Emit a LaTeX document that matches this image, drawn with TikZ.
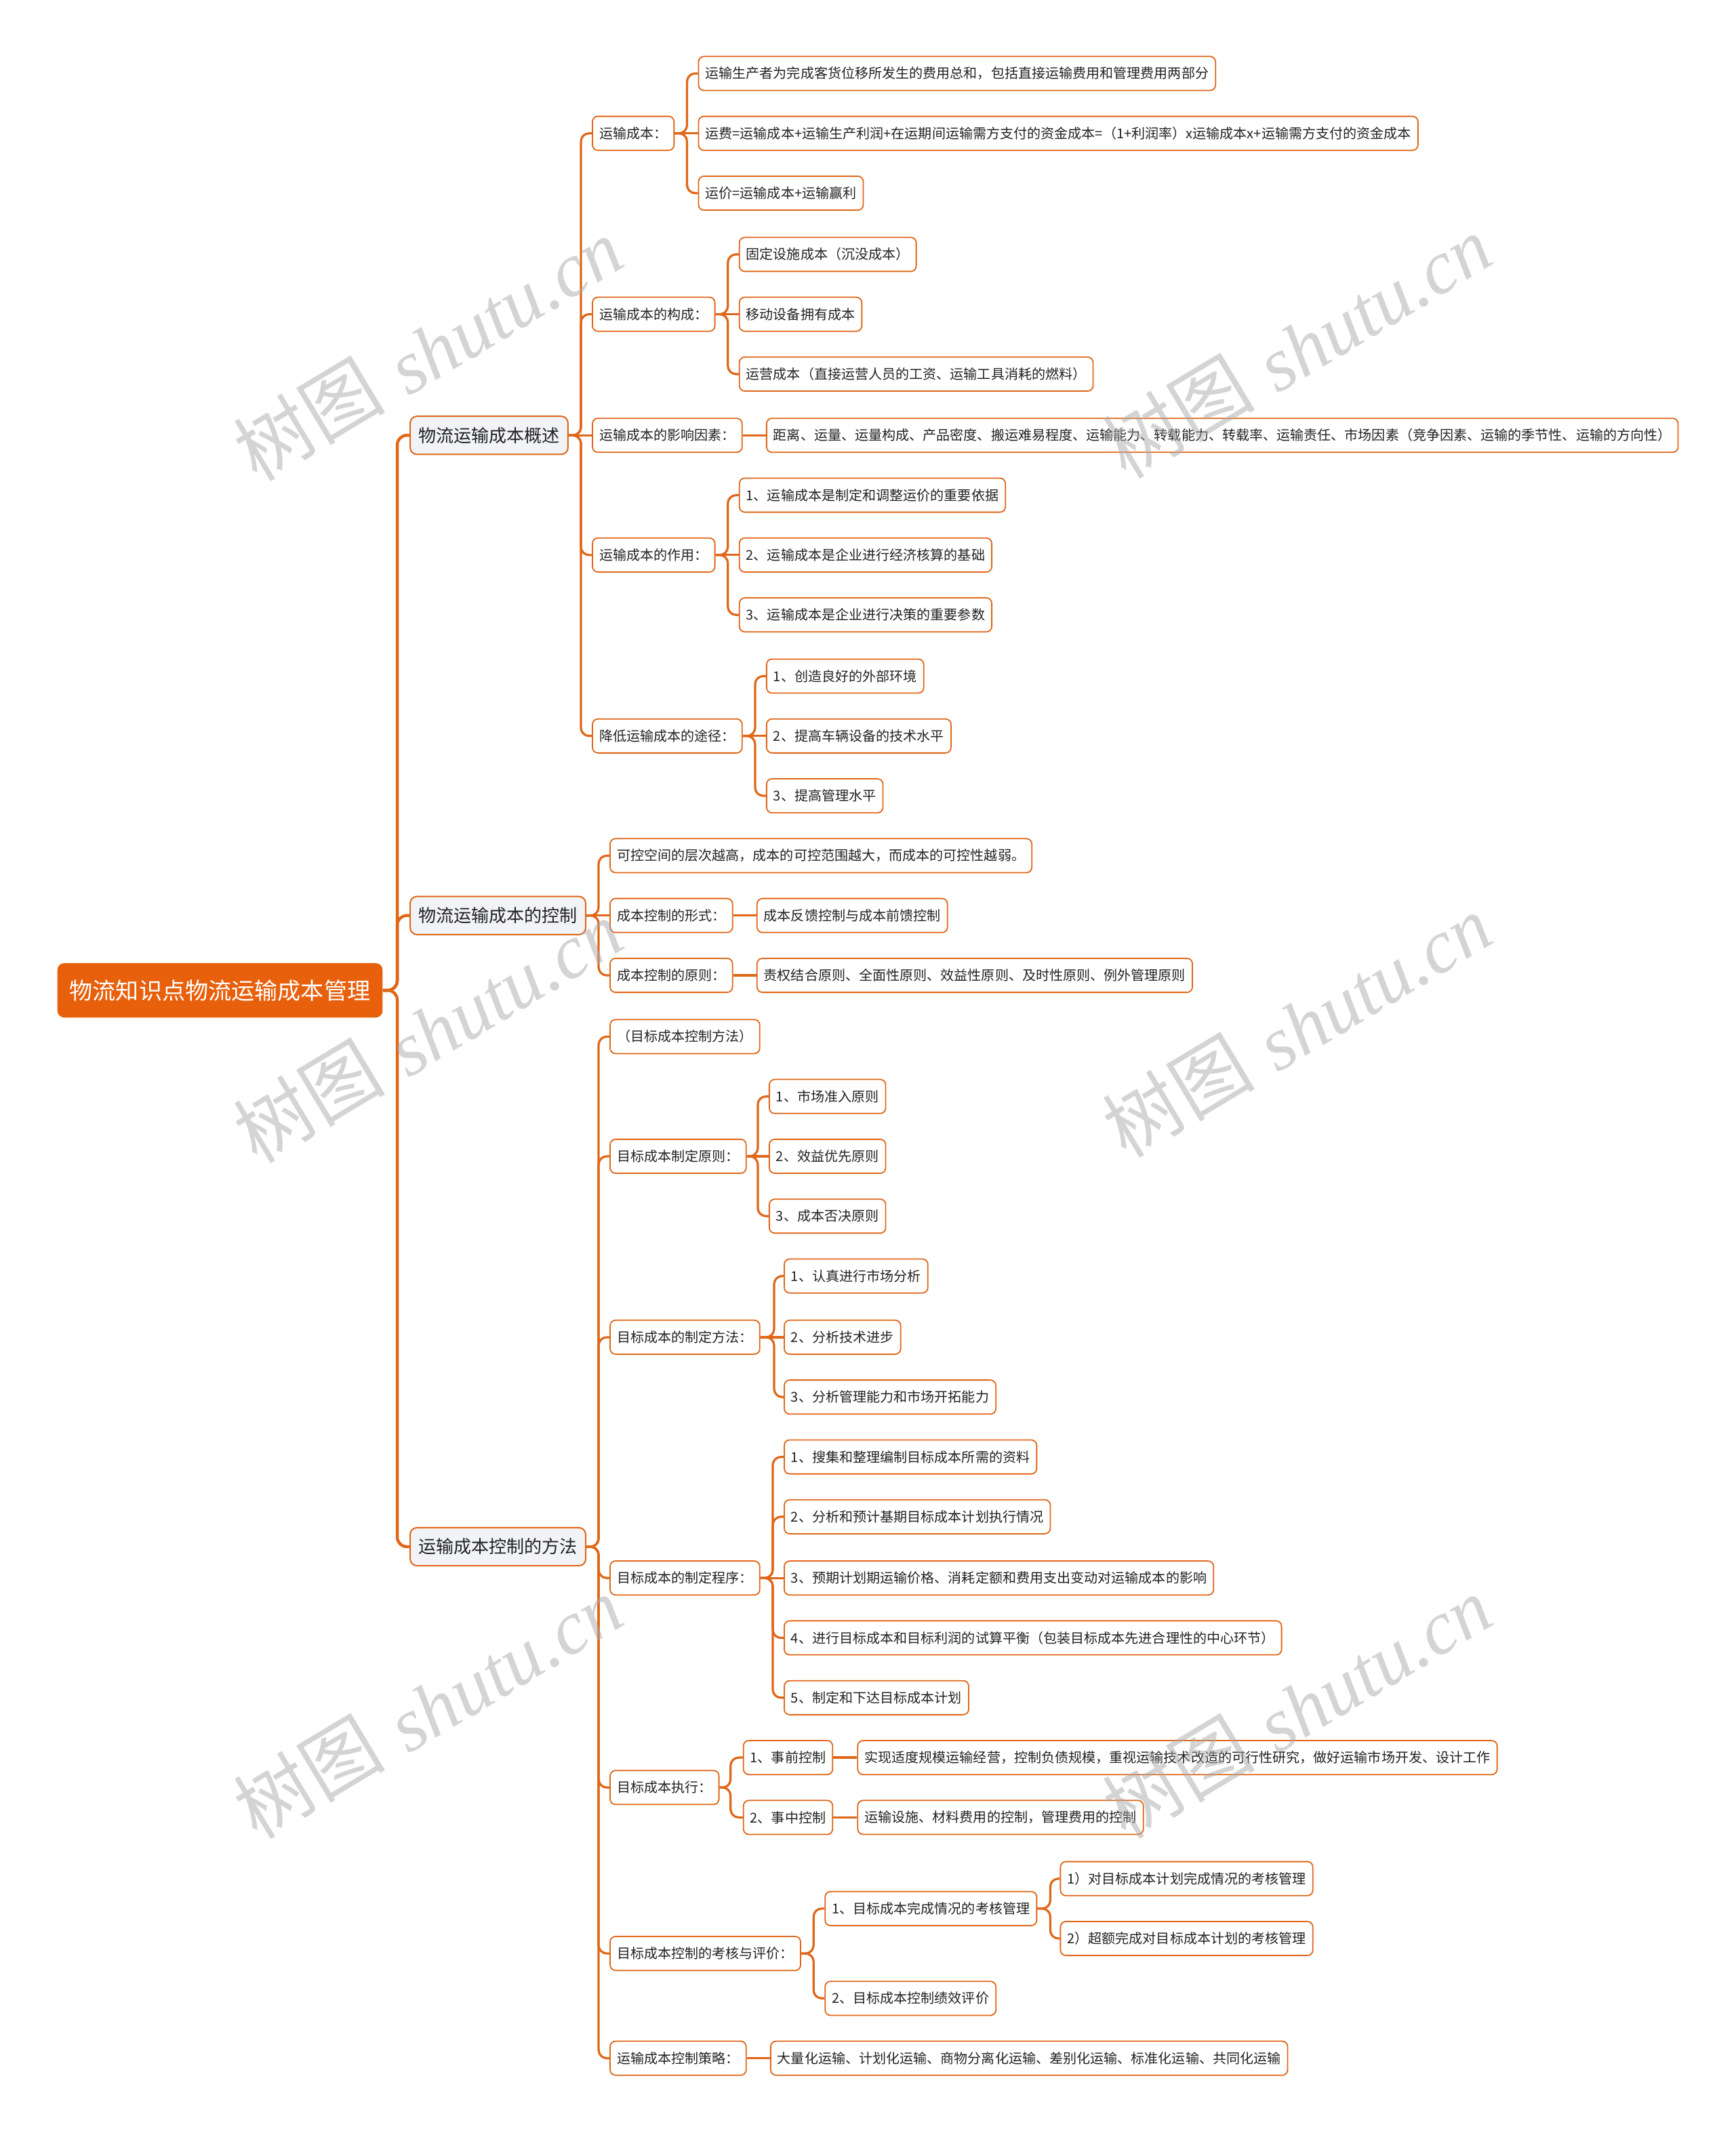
\documentclass[tikz,border=0pt]{standalone}
\usepackage{fontspec}
\setmainfont{Noto Sans CJK SC}
\newfontfamily\wmlat{Liberation Serif}
\definecolor{lineor}{RGB}{224,102,24}
\definecolor{rootor}{RGB}{232,96,12}
\definecolor{lonefill}{RGB}{242,243,247}
\definecolor{txt}{RGB}{34,34,34}
\definecolor{wmgray}{RGB}{170,170,170}
\newcommand\elb[3]{\draw[conn] (#1.east) -- (#1.east -| #2) |- (#3.west);}
\newcommand\strt[2]{\draw[conn] (#1.east) -- (#2.west);}
\begin{document}
\begin{tikzpicture}[x=1pt,y=-1pt,
  rootn/.style={fill=rootor, text=white, rounded corners=5pt, anchor=west,
    font=\fontsize{17pt}{20pt}\selectfont, minimum height=40pt, inner xsep=9pt},
  lone/.style={draw=lineor, fill=lonefill, line width=1pt, rounded corners=5pt, anchor=west,
    text=txt, font=\fontsize{13pt}{15pt}\selectfont, minimum height=28pt, inner xsep=6pt},
  ltwo/.style={draw=lineor, fill=white, line width=0.9pt, rounded corners=4pt, anchor=west,
    text=txt, font=\fontsize{10pt}{12pt}\selectfont, minimum height=25pt, inner xsep=5pt},
  conn/.style={draw=lineor, line width=1.6pt, rounded corners=6pt},
  connm/.style={draw=lineor, line width=2.2pt, rounded corners=7pt},
  wmark/.style={text=wmgray, opacity=0.5, rotate=31, inner sep=0pt,
    font=\fontsize{56pt}{60pt}\selectfont}
]
\useasboundingbox (0,0) rectangle (1275.6,1568);

% trunk coordinates
\coordinate (t0) at (292,0);
\coordinate (tA) at (427,0);
\coordinate (tA1) at (505,0);
\coordinate (tA2) at (535,0);
\coordinate (tA4) at (535,0);
\coordinate (tA5) at (555,0);
\coordinate (tB) at (440,0);
\coordinate (tC) at (440,0);
\coordinate (tC2) at (557,0);
\coordinate (tC3) at (569,0);
\coordinate (tC4) at (568,0);
\coordinate (tC5) at (537,0);
\coordinate (tC6) at (598,0);
\coordinate (tC6a) at (772,0);

% root and level 1
\node[rootn] (R) at (42,728) {物流知识点物流运输成本管理};
\node[lone] (A) at (301,320) {物流运输成本概述};
\node[lone] (B) at (301,673) {物流运输成本的控制};
\node[lone] (C) at (301,1137) {运输成本控制的方法};

% A branch
\node[ltwo] (A1) at (435,98) {运输成本：};
\node[ltwo] (A2) at (435,231) {运输成本的构成：};
\node[ltwo] (A3) at (435,320) {运输成本的影响因素：};
\node[ltwo] (A4) at (435,408) {运输成本的作用：};
\node[ltwo] (A5) at (435,541) {降低运输成本的途径：};

\node[ltwo] (A1a) at (513,54) {运输生产者为完成客货位移所发生的费用总和，包括直接运输费用和管理费用两部分};
\node[ltwo] (A1b) at (513,98) {运费=运输成本+运输生产利润+在运期间运输需方支付的资金成本=（1+利润率）x运输成本x+运输需方支付的资金成本};
\node[ltwo] (A1c) at (513,142) {运价=运输成本+运输赢利};

\node[ltwo] (A2a) at (543,187) {固定设施成本（沉没成本）};
\node[ltwo] (A2b) at (543,231) {移动设备拥有成本};
\node[ltwo] (A2c) at (543,275) {运营成本（直接运营人员的工资、运输工具消耗的燃料）};

\node[ltwo] (A3a) at (563,320) {距离、运量、运量构成、产品密度、搬运难易程度、运输能力、转载能力、转载率、运输责任、市场因素（竞争因素、运输的季节性、运输的方向性）};

\node[ltwo] (A4a) at (543,364) {1、运输成本是制定和调整运价的重要依据};
\node[ltwo] (A4b) at (543,408) {2、运输成本是企业进行经济核算的基础};
\node[ltwo] (A4c) at (543,452) {3、运输成本是企业进行决策的重要参数};

\node[ltwo] (A5a) at (563,497) {1、创造良好的外部环境};
\node[ltwo] (A5b) at (563,541) {2、提高车辆设备的技术水平};
\node[ltwo] (A5c) at (563,585) {3、提高管理水平};

% B branch
\node[ltwo] (B1) at (448,629) {可控空间的层次越高，成本的可控范围越大，而成本的可控性越弱。};
\node[ltwo] (B2) at (448,673) {成本控制的形式：};
\node[ltwo] (B3) at (448,717) {成本控制的原则：};
\node[ltwo] (B2a) at (556,673) {成本反馈控制与成本前馈控制};
\node[ltwo] (B3a) at (556,717) {责权结合原则、全面性原则、效益性原则、及时性原则、例外管理原则};

% C branch
\node[ltwo] (C1) at (448,762) {（目标成本控制方法）};
\node[ltwo] (C2) at (448,850) {目标成本制定原则：};
\node[ltwo] (C3) at (448,983) {目标成本的制定方法：};
\node[ltwo] (C4) at (448,1160) {目标成本的制定程序：};
\node[ltwo] (C5) at (448,1314) {目标成本执行：};
\node[ltwo] (C6) at (448,1436) {目标成本控制的考核与评价：};
\node[ltwo] (C7) at (448,1513) {运输成本控制策略：};

\node[ltwo] (C2a) at (565,806) {1、市场准入原则};
\node[ltwo] (C2b) at (565,850) {2、效益优先原则};
\node[ltwo] (C2c) at (565,894) {3、成本否决原则};

\node[ltwo] (C3a) at (576,938) {1、认真进行市场分析};
\node[ltwo] (C3b) at (576,983) {2、分析技术进步};
\node[ltwo] (C3c) at (576,1027) {3、分析管理能力和市场开拓能力};

\node[ltwo] (C4a) at (576,1071) {1、搜集和整理编制目标成本所需的资料};
\node[ltwo] (C4b) at (576,1115) {2、分析和预计基期目标成本计划执行情况};
\node[ltwo] (C4c) at (576,1160) {3、预期计划期运输价格、消耗定额和费用支出变动对运输成本的影响};
\node[ltwo] (C4d) at (576,1204) {4、进行目标成本和目标利润的试算平衡（包装目标成本先进合理性的中心环节）};
\node[ltwo] (C4e) at (576,1248) {5、制定和下达目标成本计划};

\node[ltwo] (C5a) at (546,1292) {1、事前控制};
\node[ltwo] (C5b) at (546,1336) {2、事中控制};
\node[ltwo] (C5a1) at (630,1292) {实现适度规模运输经营，控制负债规模，重视运输技术改造的可行性研究，做好运输市场开发、设计工作};
\node[ltwo] (C5b1) at (630,1336) {运输设施、材料费用的控制，管理费用的控制};

\node[ltwo] (C6a) at (606,1403) {1、目标成本完成情况的考核管理};
\node[ltwo] (C6b) at (606,1469) {2、目标成本控制绩效评价};
\node[ltwo] (C6a1) at (779,1381) {1）对目标成本计划完成情况的考核管理};
\node[ltwo] (C6a2) at (779,1425) {2）超额完成对目标成本计划的考核管理};

\node[ltwo] (C7a) at (566,1513) {大量化运输、计划化运输、商物分离化运输、差别化运输、标准化运输、共同化运输};

% connectors
\foreach \c in {A,B,C} {\draw[connm] (R.east) -- (R.east -| t0) |- (\c.west);}
\elb{A}{tA}{A1} \elb{A}{tA}{A2} \strt{A}{A3} \elb{A}{tA}{A4} \elb{A}{tA}{A5}
\elb{A1}{tA1}{A1a} \strt{A1}{A1b} \elb{A1}{tA1}{A1c}
\elb{A2}{tA2}{A2a} \strt{A2}{A2b} \elb{A2}{tA2}{A2c}
\strt{A3}{A3a}
\elb{A4}{tA4}{A4a} \strt{A4}{A4b} \elb{A4}{tA4}{A4c}
\elb{A5}{tA5}{A5a} \strt{A5}{A5b} \elb{A5}{tA5}{A5c}
\elb{B}{tB}{B1} \strt{B}{B2} \elb{B}{tB}{B3}
\strt{B2}{B2a} \strt{B3}{B3a}
\elb{C}{tC}{C1} \elb{C}{tC}{C2} \elb{C}{tC}{C3} \elb{C}{tC}{C4}
\elb{C}{tC}{C5} \elb{C}{tC}{C6} \elb{C}{tC}{C7}
\elb{C2}{tC2}{C2a} \strt{C2}{C2b} \elb{C2}{tC2}{C2c}
\elb{C3}{tC3}{C3a} \strt{C3}{C3b} \elb{C3}{tC3}{C3c}
\elb{C4}{tC4}{C4a} \elb{C4}{tC4}{C4b} \strt{C4}{C4c} \elb{C4}{tC4}{C4d} \elb{C4}{tC4}{C4e}
\elb{C5}{tC5}{C5a} \elb{C5}{tC5}{C5b}
\strt{C5a}{C5a1} \strt{C5b}{C5b1}
\elb{C6}{tC6}{C6a} \elb{C6}{tC6}{C6b}
\elb{C6a}{tC6a}{C6a1} \elb{C6a}{tC6a}{C6a2}
\strt{C7}{C7a}

% watermarks
\foreach \wx/\wy [count=\i] in {321/255, 960/253, 321/756, 960/752, 321/1253, 960/1253} {
  \node[wmark] (wmc\i) at (\wx-95,\wy+53) {树图};
  \node[wmark] (wml\i) at (\wx+50,\wy-28) {\wmlat\itshape shutu.cn};
}
\end{tikzpicture}
\end{document}
